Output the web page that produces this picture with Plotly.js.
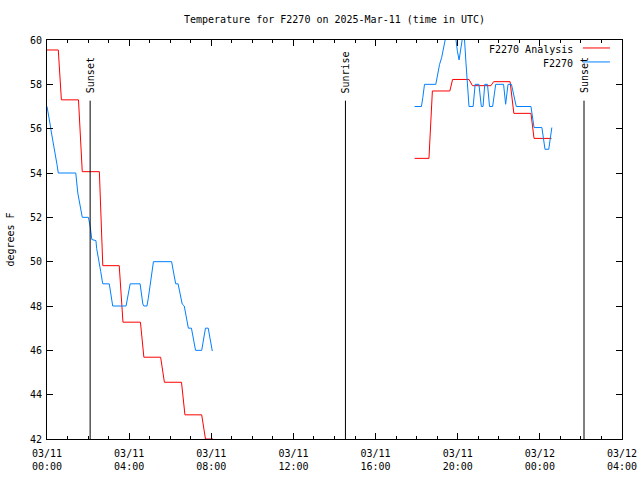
<!DOCTYPE html>
<html>
<head>
<meta charset="utf-8">
<script src="https://cdn.plot.ly/plotly-3.0.1.min.js"></script>
<style>html,body{margin:0;padding:0;background:#fff;}#chart{width:640px;height:480px;}</style>
</head>
<body>
<div id="chart"></div>
<script>
// minutes after 2025-03-11 00:00 UTC
const analysisMinutes = [0,33,42,92,103,153,163,211,222,273,283,332,343,393,403,452,463,485,700,
  1074,1116,1126,1177,1185,1233,1243,1297,1305,1353,1364,1414,1423,1474];
const analysisTemps = [59.55,59.55,57.3,57.3,54.06,54.06,49.82,49.82,47.27,47.27,45.69,45.69,44.56,44.56,43.09,43.09,42.0,42.0,null,
  54.66,54.66,57.7,57.7,58.22,58.22,57.94,57.94,58.12,58.12,56.69,56.69,55.56,55.56];

const obsMinutes = [0,4,8,12,17,21,25,29,33,84,90,97,103,121,126,131,143,145,149,153,157,161,163,182,186,190,192,231,235,239,243,272,276,280,283,292,296,299,304,307,311,364,368,372,376,383,387,391,395,401,405,409,413,422,426,430,434,452,456,460,463,471,475,479,483,700,
  1074,1094,1098,1103,1136,1142,1147,1153,1159,1163,1171,1186,1195,1199,1204,1208,1213,1217,1220,1224,1228,1230,1233,1245,1251,1262,1269,1274,1279,1287,1293,1302,1311,1334,1340,1347,1357,1371,1414,1423,1446,1455,1466,1475];
const obsTemps = [57.0,56.7,56.3,55.9,55.5,55.1,54.8,54.4,54.0,54.0,53.1,52.5,52.0,52.0,51.6,51.0,50.95,50.6,50.3,49.93,49.55,49.17,49.0,49.0,48.5,48.09,48.0,48.0,48.35,48.72,49.0,49.0,48.5,48.09,48.0,48.0,48.35,48.72,49.17,49.55,50.0,50.0,49.63,49.17,49.0,49.0,48.72,48.35,48.09,48.0,47.67,47.29,47.0,47.0,46.62,46.24,46.0,46.0,46.32,46.77,47.0,47.0,46.62,46.24,45.97,null,
  57.0,57.0,57.4,58.0,58.0,58.5,58.9,59.2,59.6,60.0,60.6,60.6,60.0,59.5,59.1,59.5,60.0,60.1,60.0,59.0,58.0,57.5,57.0,57.0,58.0,58.0,57.0,57.0,58.0,58.0,57.0,57.0,58.0,58.0,57.1,58.0,58.0,57.0,57.0,56.05,56.05,55.07,55.07,56.05];

const eventTimes = ['2025-03-11 02:06','2025-03-11 14:32','2025-03-12 02:09'];
const eventLabels = ['Sunset','Sunrise','Sunset'];
const seriesNames = ['F2270 Analysis','F2270'];
const seriesColors = ['#ff0000','#0080ff'];
const xRange = ['2025-03-11 00:00','2025-03-12 04:00'];
const yRange = [42, 60];

const base = Date.UTC(2025,2,11,0,0);
function toDate(m){
  const d = new Date(base + m*60000);
  const p = n => String(n).padStart(2,'0');
  return d.getUTCFullYear()+'-'+p(d.getUTCMonth()+1)+'-'+p(d.getUTCDate())+' '+p(d.getUTCHours())+':'+p(d.getUTCMinutes());
}

const font = 'DejaVu Sans Mono, monospace';

const traces = [
  {x: analysisMinutes.map(toDate), y: analysisTemps, mode:'lines', name: seriesNames[0],
   line:{color:seriesColors[0], width:1}, connectgaps:false},
  {x: obsMinutes.map(toDate), y: obsTemps, mode:'lines', name: seriesNames[1],
   line:{color:seriesColors[1], width:1}, connectgaps:false}
];

const shapes = [];
const annotations = [];
eventTimes.forEach((t,i)=>{
  shapes.push({type:'line', xref:'x', yref:'paper', x0:t, x1:t, y0:0, y1:0.848,
    line:{color:'#000', width:1}});
  annotations.push({x:t, xref:'x', y:0.862, yref:'paper', text:eventLabels[i], textangle:-90,
    showarrow:false, xanchor:'center', yanchor:'bottom', font:{family:font, size:10, color:'#000'}});
});
// legend (text right-aligned, sample line to the right, as in the reference)
const legY = [0.977, 0.942];
seriesNames.forEach((n,i)=>{
  annotations.push({x:0.918, xref:'paper', y:legY[i], yref:'paper', text:n, showarrow:false,
    xanchor:'right', yanchor:'middle', font:{family:font, size:10, color:'#000'}});
  shapes.push({type:'line', xref:'paper', yref:'paper', x0:0.932, x1:0.979, y0:legY[i]+0.003, y1:legY[i]+0.003,
    line:{color:seriesColors[i], width:1}});
});

const layout = {
  width:640, height:480,
  margin:{l:47, r:18, t:40, b:41},
  paper_bgcolor:'#fff', plot_bgcolor:'#fff',
  showlegend:false,
  font:{family:font, size:10, color:'#000'},
  title:{text:'Temperature for F2270 on 2025-Mar-11 (time in UTC)', x:0.5, xref:'paper',
    y:1-19/480, yref:'container', yanchor:'middle', font:{family:font, size:10, color:'#000'}},
  xaxis:{type:'date', range:xRange, showgrid:false, zeroline:false,
    showline:true, linecolor:'#000', linewidth:1, mirror:'allticks',
    ticks:'inside', ticklen:6, tickcolor:'#000', dtick:4*3600000, tick0:'2025-03-11 00:00',
    ticklabelstandoff:5,
    tickformat:'%m/%d<br>%H:%M', tickfont:{family:font, size:10, color:'#000'},
    minor:{dtick:3600000, ticks:'inside', ticklen:3, tickcolor:'#000', showgrid:false}},
  yaxis:{range:yRange, showgrid:false, zeroline:false,
    showline:true, linecolor:'#000', linewidth:1, mirror:'allticks',
    ticks:'inside', ticklen:6, tickcolor:'#000', dtick:2, tick0:42,
    ticklabelstandoff:2,
    tickfont:{family:font, size:10, color:'#000'},
    title:{text:'degrees F', standoff:13, font:{family:font, size:10, color:'#000'}}},
  shapes:shapes, annotations:annotations
};

Plotly.newPlot('chart', traces, layout, {displayModeBar:false, staticPlot:true});
</script>
</body>
</html>
